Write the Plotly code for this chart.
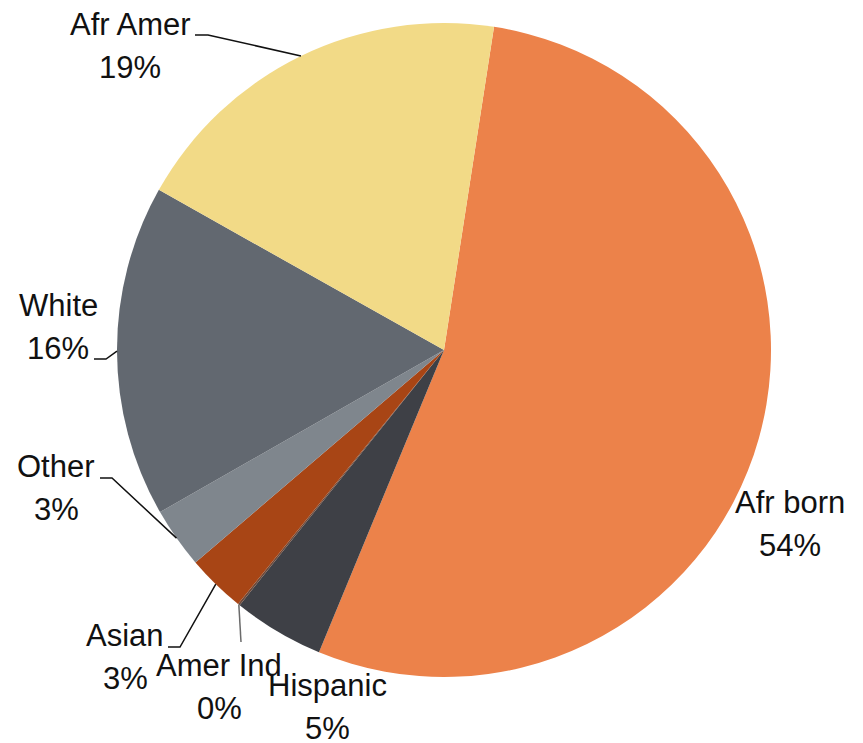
import math
import plotly.graph_objects as go

# ---- data ----
categories = ["Afr born", "Hispanic", "Amer Ind", "Asian", "Other", "White", "Afr Amer"]
values = [53.8, 4.5, 0.1, 2.9, 3.0, 16.4, 19.3]
pct_labels = ["54%", "5%", "0%", "3%", "3%", "16%", "19%"]
colors = ["#EC824A", "#3E4046", "#6E4A3A", "#A84515", "#7F868D", "#626870", "#F2DA87"]
start_rotation = 8.8

W, H = 863, 743
OFF = 8  # page body margin
CX, CY, R = 444, 350, 327

def px(x):
    return (x - OFF) / W

def py(y):
    return 1 - (y - OFF) / H

fig = go.Figure(go.Pie(
    labels=categories,
    values=values,
    sort=False,
    direction="clockwise",
    rotation=start_rotation,
    marker=dict(colors=colors, line=dict(width=0)),
    textinfo="none",
    hoverinfo="label+percent",
    showlegend=False,
    domain=dict(x=[px(CX - R), px(CX + R)], y=[py(CY + R), py(CY - R)]),
))

FS = 31
LINE_GAP = 43
# label placement: (x centre, baseline of first line) in pixels
label_pos = {
    "Afr born": (790, 513),
    "Hispanic": (327, 696),
    "Amer Ind": (219, 676),
    "Asian": (125, 646),
    "Other": (56, 477),
    "White": (58, 316),
    "Afr Amer": (130, 35),
}
# leader-line elbows (pixel space): start, elbow
leader = {
    "Afr Amer": [(195, 35), (208, 35)],
    "White": [(94, 359), (106, 359)],
    "Other": [(100, 478), (112, 478)],
    "Asian": [(168, 647), (180, 647)],
    "Amer Ind": [(241, 642)],
}
leader_color = {"Amer Ind": "#6b6b6b"}

font = dict(family="Liberation Sans, Arial, sans-serif", size=FS, color="#111111")

total = sum(values)
cum = 0.0
annotations = []
shapes = []
for cat, v, pl in zip(categories, values, pct_labels):
    mid = math.radians(start_rotation + 360 * (cum + v / 2) / total)
    cum += v
    ax = CX + R * math.sin(mid)
    ay = CY - R * math.cos(mid)
    lx, base = label_pos[cat]
    for i, t in enumerate([cat, pl]):
        yc = base + i * LINE_GAP - 0.35 * FS
        annotations.append(dict(
            x=px(lx), y=py(yc), xref="paper", yref="paper",
            text=t, showarrow=False, font=font,
            xanchor="center", yanchor="middle", align="center",
        ))
    if cat in leader:
        pts = leader[cat] + [(ax, ay)]
        path = "M " + " L ".join(f"{px(x)},{py(y)}" for x, y in pts)
        shapes.append(dict(type="path", path=path, xref="paper", yref="paper",
                           line=dict(color=leader_color.get(cat, "#111111"), width=1.5)))

fig.update_layout(
    width=W, height=H,
    margin=dict(l=0, r=0, t=0, b=0),
    paper_bgcolor="white", plot_bgcolor="white",
    annotations=annotations,
    shapes=shapes,
)

fig.write_html("out.html")
